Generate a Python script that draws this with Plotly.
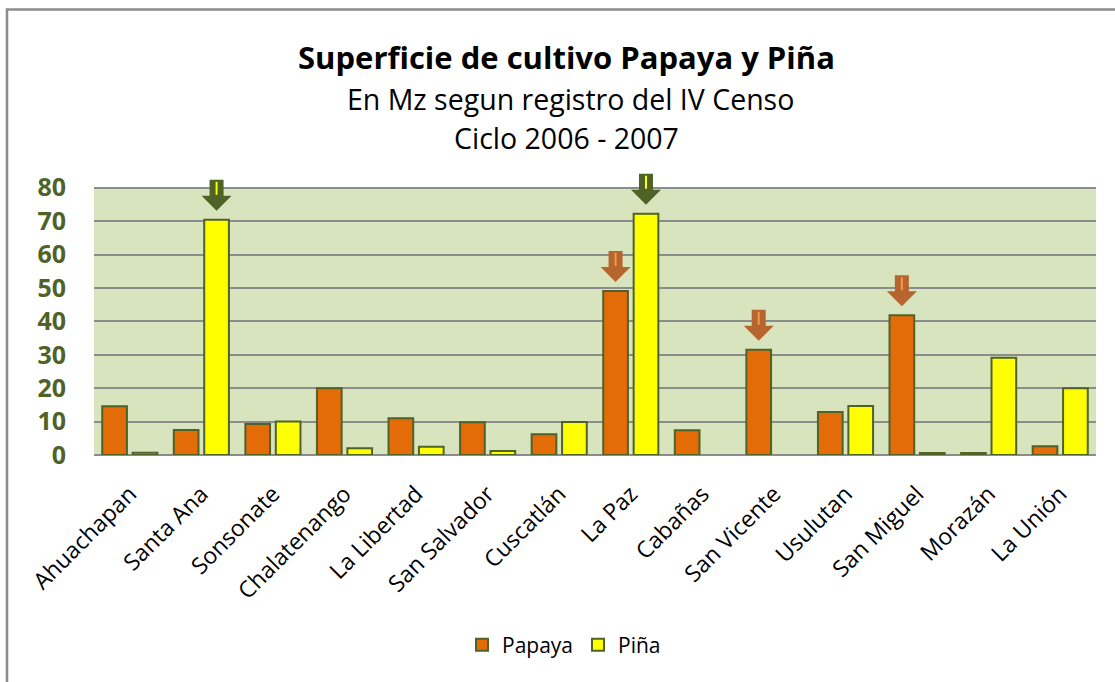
import plotly.graph_objects as go

categories = ["Ahuachapan", "Santa Ana", "Sonsonate", "Chalatenango", "La Libertad",
              "San Salvador", "Cuscatlán", "La Paz", "Cabañas", "San Vicente",
              "Usulutan", "San Miguel", "Morazán", "La Unión"]
papaya = [14.6, 7.5, 9.3, 20.0, 11.0, 9.8, 6.2, 49.1, 7.4, 31.5, 12.9, 41.8, 0.6, 2.6]
pina = [0.7, 70.4, 10.0, 2.0, 2.5, 1.2, 9.9, 72.2, None, None, 14.7, 0.6, 29.1, 20.0]
y_ticks = [0, 10, 20, 30, 40, 50, 60, 70, 80]
# highlighted bars: (category index, series)
highlights = [(1, "Piña"), (7, "Piña"), (7, "Papaya"), (9, "Papaya"), (11, "Papaya")]

W, H = 1115, 682
Y_TOP_VAL, Y_EXTRA = 80, 88
PX_TOP80, PX_ZERO = 188, 455
upx = (PX_ZERO - PX_TOP80) / Y_TOP_VAL          # pixels per data unit
L, R = 94, 19
B = H - PX_ZERO
T = PX_ZERO - Y_EXTRA * upx
pw, ph = W - L - R, H - T - B
cat_px = pw / len(categories)

def px_x(p):
    return (p - L) / pw

def px_y(p):
    return (H - B - p) / ph

xs = list(range(len(categories)))
bar_w = 0.345
off_p, off_q = -0.385, 0.04
edge = "#4F6228"
font = "'Open Sans', sans-serif"

fig = go.Figure()
fig.add_trace(go.Bar(x=xs, y=papaya, name="Papaya", width=bar_w, offset=off_p,
                     marker=dict(color="#E36C09", line=dict(color=edge, width=2))))
fig.add_trace(go.Bar(x=xs, y=pina, name="Piña", width=bar_w, offset=off_q,
                     marker=dict(color="#FFFF00", line=dict(color=edge, width=2))))

shapes = [
    # plot background only up to 80
    dict(type="rect", xref="paper", yref="y", x0=0, x1=1, y0=0, y1=Y_TOP_VAL,
         fillcolor="#D7E4BD", line=dict(width=0), layer="below"),
    # outer chart border
    dict(type="rect", xref="paper", yref="paper",
         x0=px_x(7), x1=px_x(1140), y0=px_y(710), y1=px_y(10),
         line=dict(color="#8C8C8C", width=2.5), fillcolor="rgba(0,0,0,0)", layer="below"),
]

series = {"Papaya": (papaya, off_p), "Piña": (pina, off_q)}
for idx, s in highlights:
    vals, off = series[s]
    xc = idx + off + bar_w / 2
    if s == "Piña":
        col, hl = "#4F6228", "#FFFF00"
    else:
        col, hl = "#B7652E", "#F79646"
    tip = vals[idx] + 9 / upx
    base = tip + 15 / upx
    top = tip + 31 / upx
    sw = 7 / cat_px
    hw = 15 / cat_px
    path = (f"M {xc - sw},{top} L {xc + sw},{top} L {xc + sw},{base} L {xc + hw},{base} "
            f"L {xc},{tip} L {xc - hw},{base} L {xc - sw},{base} Z")
    shapes.append(dict(type="path", xref="x", yref="y", path=path, fillcolor=col,
                       line=dict(width=0), layer="above"))
    shapes.append(dict(type="line", xref="x", yref="y", x0=xc, x1=xc,
                       y0=top - 2 / upx, y1=base + 1 / upx,
                       line=dict(color=hl, width=2), layer="above"))

annotations = [
    dict(x=px_x(566), y=px_y(57), xref="paper", yref="paper",
         text="<b>Superficie de cultivo Papaya y Piña</b>", showarrow=False,
         font=dict(family=font, size=31, color="black"), xanchor="center", yanchor="middle"),
    dict(x=px_x(570), y=px_y(99), xref="paper", yref="paper",
         text="En Mz segun registro del IV Censo", showarrow=False,
         font=dict(family=font, size=28.5, color="black"), xanchor="center", yanchor="middle"),
    dict(x=px_x(566), y=px_y(138), xref="paper", yref="paper",
         text="Ciclo 2006 - 2007", showarrow=False,
         font=dict(family=font, size=28.5, color="black"), xanchor="center", yanchor="middle"),
]

fig.update_layout(
    width=W, height=H,
    margin=dict(l=L, r=R, t=T, b=B, pad=0),
    paper_bgcolor="white",
    plot_bgcolor="white",
    barmode="overlay",
    showlegend=True,
    legend=dict(orientation="h", x=px_x(564), y=px_y(645), xanchor="center", yanchor="middle",
                font=dict(family=font, size=21, color="black"),
                itemwidth=30, traceorder="normal"),
    annotations=annotations,
    shapes=shapes,
    xaxis=dict(range=[-0.5, len(categories) - 0.5], tickmode="array", tickvals=xs,
               ticktext=categories, tickangle=-45, showgrid=False, zeroline=False,
               showline=False, ticks="", ticklabelstandoff=20,
               tickfont=dict(family=font, size=23, color="black")),
    yaxis=dict(range=[0, Y_EXTRA], tickmode="array", tickvals=y_ticks, showgrid=True,
               gridcolor="#8C8C8C", gridwidth=2, zeroline=True, zerolinecolor="#8C8C8C",
               zerolinewidth=2, ticks="", ticklabelstandoff=27,
               tickfont=dict(family=font, size=25, color="#4F6228", weight="bold")),
)

fig.write_html("out.html", config={"displayModeBar": False},
               post_script="document.body.style.margin='0px';")
